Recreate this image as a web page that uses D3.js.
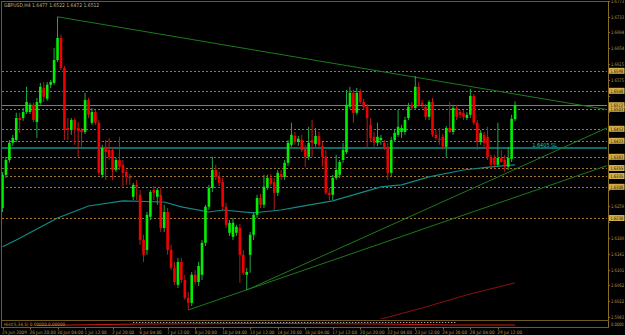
<!DOCTYPE html>
<html>
<head>
<meta charset="utf-8">
<script src="https://cdnjs.cloudflare.com/ajax/libs/d3/7.8.5/d3.min.js"></script>
<style>
  body { margin: 0; background: #000; }
  svg { display: block; font-family: "DejaVu Sans Condensed", "DejaVu Sans", sans-serif; font-stretch: condensed; }
</style>
</head>
<body>
<div class="chart"></div>
<script>
const symbol = "GBPUSD,H4"

// H4 candles, 25 Jun 2009 12:00 onwards
const opens = [
  1.6255,1.6338,1.6375,1.6418,1.6425,1.6480,1.6480,1.6495,1.6495,1.6513,
  1.6470,1.6518,1.6555,1.6528,1.6563,1.6568,1.6625,1.6680,1.6605,1.6455,
  1.6450,1.6475,1.6455,1.6450,1.6445,1.6525,1.6468,1.6495,1.6468,1.6338,
  1.6405,1.6400,1.6400,1.6350,1.6375,1.6363,1.6345,1.6333,1.6283,1.6313,
  1.6288,1.6175,1.6150,1.6233,1.6300,1.6283,1.6288,1.6205,1.6245,1.6150,
  1.6105,1.6063,1.6120,1.6075,1.6030,1.6018,1.6088,1.6070,1.6088,1.6168,
  1.6258,1.6305,1.6350,1.6333,1.6320,1.6258,1.6193,1.6183,1.6193,1.6205,
  1.6138,1.6088,1.6138,1.6188,1.6238,1.6280,1.6263,1.6305,1.6330,1.6320,
  1.6293,1.6340,1.6333,1.6368,1.6413,1.6435,1.6420,1.6425,1.6403,1.6383,
  1.6425,1.6415,1.6435,1.6410,1.6383,1.6293,1.6288,1.6330,1.6338,1.6375,
  1.6395,1.6508,1.6543,1.6493,1.6545,1.6520,1.6508,1.6463,1.6433,1.6418,
  1.6425,1.6418,1.6408,1.6343,1.6425,1.6438,1.6445,1.6445,1.6480,1.6513,
  1.6505,1.6558,1.6518,1.6508,1.6483,1.6520,1.6438,1.6428,1.6433,1.6408,
  1.6455,1.6445,1.6505,1.6495,1.6493,1.6480,1.6488,1.6535,1.6468,1.6420,
  1.6438,1.6433,1.6380,1.6380,1.6363,1.6380,1.6375,1.6358,1.6378,1.6477
]
const highs = [
  1.6345,1.6383,1.6425,1.6438,1.6493,1.6493,1.6505,1.6558,1.6518,1.6518,
  1.6530,1.6568,1.6570,1.6570,1.6575,1.6655,1.6733,1.6688,1.6610,1.6480,
  1.6480,1.6480,1.6470,1.6455,1.6543,1.6530,1.6505,1.6500,1.6475,1.6413,
  1.6425,1.6430,1.6405,1.6380,1.6433,1.6375,1.6350,1.6340,1.6318,1.6325,
  1.6300,1.6188,1.6245,1.6300,1.6310,1.6305,1.6305,1.6263,1.6255,1.6163,
  1.6120,1.6130,1.6130,1.6088,1.6045,1.6095,1.6100,1.6120,1.6175,1.6263,
  1.6313,1.6383,1.6363,1.6345,1.6330,1.6268,1.6225,1.6230,1.6213,1.6215,
  1.6150,1.6105,1.6195,1.6245,1.6288,1.6290,1.6338,1.6338,1.6340,1.6330,
  1.6350,1.6350,1.6375,1.6425,1.6468,1.6445,1.6435,1.6438,1.6413,1.6458,
  1.6475,1.6455,1.6445,1.6420,1.6400,1.6305,1.6338,1.6388,1.6375,1.6418,
  1.6550,1.6558,1.6550,1.6555,1.6553,1.6528,1.6515,1.6480,1.6445,1.6468,
  1.6438,1.6425,1.6418,1.6433,1.6450,1.6500,1.6463,1.6483,1.6518,1.6520,
  1.6585,1.6570,1.6525,1.6515,1.6525,1.6530,1.6450,1.6455,1.6440,1.6460,
  1.6520,1.6513,1.6513,1.6500,1.6500,1.6495,1.6553,1.6540,1.6475,1.6450,
  1.6445,1.6458,1.6388,1.6388,1.6468,1.6400,1.6388,1.6408,1.6488,1.6522
]
const lows = [
  1.6245,1.6330,1.6368,1.6410,1.6420,1.6443,1.6473,1.6490,1.6490,1.6470,
  1.6430,1.6513,1.6520,1.6523,1.6555,1.6563,1.6620,1.6600,1.6425,1.6425,
  1.6438,1.6413,1.6383,1.6408,1.6440,1.6480,1.6463,1.6463,1.6338,1.6330,
  1.6325,1.6375,1.6325,1.6345,1.6350,1.6308,1.6313,1.6313,1.6275,1.6275,
  1.6163,1.6120,1.6138,1.6225,1.6275,1.6263,1.6195,1.6195,1.6138,1.6100,
  1.6063,1.6055,1.6068,1.6025,1.6000,1.6010,1.6063,1.6060,1.6075,1.6160,
  1.6250,1.6295,1.6325,1.6310,1.6250,1.6205,1.6185,1.6175,1.6185,1.6068,
  1.6088,1.6050,1.6093,1.6175,1.6230,1.6255,1.6255,1.6300,1.6310,1.6250,
  1.6285,1.6325,1.6325,1.6360,1.6408,1.6413,1.6410,1.6395,1.6358,1.6375,
  1.6383,1.6408,1.6405,1.6358,1.6288,1.6275,1.6275,1.6325,1.6330,1.6368,
  1.6390,1.6503,1.6468,1.6488,1.6515,1.6500,1.6405,1.6420,1.6408,1.6410,
  1.6413,1.6400,1.6325,1.6333,1.6420,1.6433,1.6430,1.6438,1.6475,1.6500,
  1.6500,1.6508,1.6505,1.6475,1.6475,1.6433,1.6425,1.6413,1.6400,1.6383,
  1.6443,1.6438,1.6475,1.6480,1.6475,1.6475,1.6480,1.6463,1.6400,1.6413,
  1.6405,1.6375,1.6355,1.6355,1.6358,1.6368,1.6345,1.6350,1.6370,1.6472
]
const closes = [
  1.6338,1.6375,1.6418,1.6430,1.6480,1.6475,1.6495,1.6520,1.6513,1.6475,
  1.6520,1.6558,1.6533,1.6563,1.6570,1.6625,1.6680,1.6605,1.6450,1.6450,
  1.6475,1.6450,1.6448,1.6445,1.6525,1.6488,1.6495,1.6468,1.6343,1.6405,
  1.6395,1.6383,1.6350,1.6375,1.6358,1.6343,1.6333,1.6330,1.6313,1.6308,
  1.6175,1.6138,1.6238,1.6295,1.6293,1.6300,1.6205,1.6245,1.6150,1.6105,
  1.6070,1.6120,1.6075,1.6030,1.6018,1.6088,1.6070,1.6110,1.6168,1.6258,
  1.6305,1.6350,1.6333,1.6318,1.6258,1.6213,1.6218,1.6218,1.6208,1.6138,
  1.6093,1.6095,1.6188,1.6238,1.6280,1.6263,1.6308,1.6330,1.6315,1.6293,
  1.6343,1.6333,1.6368,1.6418,1.6438,1.6420,1.6428,1.6400,1.6383,1.6418,
  1.6418,1.6435,1.6413,1.6383,1.6293,1.6288,1.6330,1.6350,1.6370,1.6400,
  1.6513,1.6543,1.6493,1.6543,1.6520,1.6508,1.6480,1.6430,1.6418,1.6433,
  1.6430,1.6408,1.6343,1.6425,1.6443,1.6458,1.6455,1.6475,1.6508,1.6505,
  1.6558,1.6513,1.6513,1.6483,1.6520,1.6438,1.6430,1.6425,1.6408,1.6455,
  1.6445,1.6505,1.6483,1.6488,1.6483,1.6488,1.6535,1.6468,1.6420,1.6443,
  1.6418,1.6383,1.6363,1.6363,1.6380,1.6370,1.6358,1.6380,1.6478,1.6512
]

// one label every 8 bars
const timeLabels = ["25 Jun 2009","26 Jun 20:00","30 Jun 04:00","1 Jul 12:00","2 Jul 20:00",
  "6 Jul 04:00","7 Jul 12:00","8 Jul 20:00","10 Jul 04:00","13 Jul 12:00","14 Jul 20:00",
  "16 Jul 04:00","17 Jul 12:00","20 Jul 20:00","22 Jul 04:00","23 Jul 12:00","24 Jul 20:00",
  "28 Jul 04:00","29 Jul 12:00"]

const priceTicks = [1.6773,1.6733,1.6694,1.6654,1.6615,1.6575,1.6536,1.6496,1.6457,1.6417,
  1.6378,1.6338,1.6299,1.6259,1.6220,1.6180,1.6141,1.6101,1.6062,1.6022,1.5983]

// horizontal levels drawn by hand (dashed)
const levels = [1.6598,1.6548,1.6503,1.6453,1.6423,1.6383,1.6355,1.6335,1.6308,1.6230]
const bid = 1.6512
const stopLevel = 1.6405
const stopText = "1.6405 SL"

// moving averages (bar, price)
const maBars   = [0,4,16,25,35,47,52,60,64,73,81,86,96,104,110,116,124,134,142,149]
const maValues = [1.6158,1.6175,1.6230,1.6260,1.6273,1.6270,1.6258,1.6245,1.6250,1.6243,
  1.6250,1.6258,1.6273,1.6293,1.6308,1.6313,1.6333,1.6350,1.6358,1.6363]
const ma2Bars   = [109,122,135,149]
const ma2Values = [1.5975,1.6005,1.6038,1.6068]

// trend lines: [bar1, price1, bar2, price2]
const trendLines = [[16,1.6733,120,1.6582],[71,1.6050,133,1.6290],[54,1.6000,140,1.6255]]

// little indicator window under the chart
const subBars = [10,40,80,110,130,149]
const subRed  = [0.2,0.5,0.6,0.5,0.3,0.3]
const subText = "Hist(5,34,5) 0.00000  0.00000"

let w = 625
let h = 335
let plotR = 607
let plotB = 319

let svg = d3.select(".chart").append("svg")
  .attr("width", w).attr("height", h)
  .style("background-color", "#000")

const xScale = d3.scaleLinear()
  .domain([0, 149])
  .range([2.5, 2.5 + 3.44 * 149])
const yScale = d3.scaleLinear()
  .domain([1.59775, 1.6775])
  .range([319, 0])

svg.append("clipPath").attr("id", "clip")
  .append("rect").attr("x", 2).attr("y", 2).attr("width", plotR - 2).attr("height", plotB - 2)

let plot = svg.append("g").attr("clip-path", "url(#clip)")

// frame
let frameCol = "#6e5a22"
svg.append("line").attr("x1", 1.5).attr("x2", 1.5).attr("y1", 1).attr("y2", 328).attr("stroke", frameCol)
svg.append("line").attr("x1", 1).attr("x2", 608).attr("y1", 1.5).attr("y2", 1.5).attr("stroke", frameCol)
svg.append("line").attr("x1", 608.5).attr("x2", 608.5).attr("y1", 1).attr("y2", 328).attr("stroke", "#8a6d24")
svg.append("line").attr("x1", 1).attr("x2", 609).attr("y1", 320.5).attr("y2", 320.5).attr("stroke", frameCol)
svg.append("line").attr("x1", 1).attr("x2", 609).attr("y1", 327.5).attr("y2", 327.5).attr("stroke", frameCol)

// dashed levels
plot.selectAll(".lvl").data(levels).enter().append("line")
  .attr("class", "lvl")
  .attr("x1", 2).attr("x2", plotR)
  .attr("y1", d => Math.round(yScale(d)) + 0.5).attr("y2", d => Math.round(yScale(d)) + 0.5)
  .attr("stroke", "#a8742a").attr("stroke-dasharray", "2,2")

// bid line
plot.append("line")
  .attr("x1", 2).attr("x2", plotR)
  .attr("y1", Math.round(yScale(bid)) + 0.5).attr("y2", Math.round(yScale(bid)) + 0.5)
  .attr("stroke", "#7a7a7a")

// stop level
plot.append("line")
  .attr("x1", 2).attr("x2", plotR)
  .attr("y1", yScale(stopLevel)).attr("y2", yScale(stopLevel))
  .attr("stroke", "#0b6b68").attr("stroke-width", 2)
svg.append("text").text(stopText)
  .attr("x", 557).attr("y", yScale(stopLevel) - 1.5)
  .attr("text-anchor", "end").attr("font-size", 5.5).attr("fill", "#18c8c8")

// moving averages
let maLine = d3.line().x(d => xScale(d[0])).y(d => yScale(d[1]))
plot.append("path")
  .attr("d", maLine(maBars.map((b, i) => [b, maValues[i]])))
  .attr("fill", "none").attr("stroke", "#138a86").attr("stroke-width", 1.2)
plot.append("path")
  .attr("d", maLine(ma2Bars.map((b, i) => [b, ma2Values[i]])))
  .attr("fill", "none").attr("stroke", "#8c1010").attr("stroke-width", 1)

// trend lines, extended to the right edge
let lastBar = xScale.invert(plotR)
plot.selectAll(".trend").data(trendLines).enter().append("line")
  .attr("class", "trend")
  .attr("x1", d => xScale(d[0])).attr("y1", d => yScale(d[1]))
  .attr("x2", xScale(lastBar))
  .attr("y2", d => yScale(d[1] + (d[3] - d[1]) / (d[2] - d[0]) * (lastBar - d[0])))
  .attr("stroke", "#1d7a1d").attr("stroke-width", 1)

// candles
let bars = d3.range(opens.length)
let up = i => closes[i] >= opens[i]
plot.selectAll(".wick").data(bars).enter().append("line")
  .attr("class", "wick")
  .attr("x1", i => xScale(i)).attr("x2", i => xScale(i))
  .attr("y1", i => yScale(highs[i])).attr("y2", i => yScale(lows[i]))
  .attr("stroke", i => up(i) ? "#22a84a" : "#b41c1c").attr("stroke-width", 1)
plot.selectAll(".body").data(bars).enter().append("rect")
  .attr("class", "body")
  .attr("x", i => xScale(i) - 1.3).attr("width", 2.6)
  .attr("y", i => yScale(Math.max(opens[i], closes[i])))
  .attr("height", i => Math.max(1, Math.abs(yScale(opens[i]) - yScale(closes[i]))))
  .attr("fill", i => up(i) ? "#00f000" : "#f00000")

// price axis (labels hidden under a level tag are skipped, as the terminal does)
let tags = levels.concat([bid])
let freeTicks = priceTicks.filter(p => tags.every(t => Math.abs(yScale(t) - yScale(p)) > 6))
svg.selectAll(".ptick").data(freeTicks).enter().append("text")
  .attr("class", "ptick")
  .attr("x", 611).attr("y", d => yScale(d) + 2)
  .attr("font-size", 4.8).attr("fill", "#b49650")
  .attr("textLength", 13).attr("lengthAdjust", "spacingAndGlyphs")
  .text(d => d.toFixed(4))
svg.selectAll(".ptickmark").data(priceTicks).enter().append("line")
  .attr("class", "ptickmark")
  .attr("x1", 608).attr("x2", 610)
  .attr("y1", d => Math.round(yScale(d)) + 0.5).attr("y2", d => Math.round(yScale(d)) + 0.5)
  .attr("stroke", "#8a6d24")

// level tags on the axis
svg.selectAll(".tag").data(tags).enter().append("rect")
  .attr("class", "tag")
  .attr("x", 609).attr("width", 15.5)
  .attr("y", d => yScale(d) - 3).attr("height", 6)
  .attr("fill", "#d2ad48")
svg.selectAll(".tagtxt").data(tags).enter().append("text")
  .attr("class", "tagtxt")
  .attr("x", 610.2).attr("y", d => yScale(d) + 1.8)
  .attr("font-size", 4.6).attr("fill", "#2a2000")
  .attr("textLength", 13).attr("lengthAdjust", "spacingAndGlyphs")
  .text(d => d.toFixed(4))

// header
let last = opens.length - 1
svg.append("text")
  .attr("x", 4).attr("y", 7)
  .attr("font-size", 5).attr("fill", "#c8b078")
  .text(symbol + "  " + [opens[last], highs[last], lows[last], closes[last]].map(v => v.toFixed(4)).join(" "))

// indicator window
let subScale = d3.scaleLinear().domain([0, 1]).range([326.5, 321.5])
svg.append("path")
  .attr("d", d3.line().x(d => xScale(d[0])).y(d => subScale(d[1]))(subBars.map((b, i) => [b, subRed[i]])))
  .attr("fill", "none").attr("stroke", "#d01818").attr("stroke-width", 1)
svg.append("line")
  .attr("x1", xScale(38)).attr("x2", xScale(132))
  .attr("y1", 322.5).attr("y2", 322.5)
  .attr("stroke", "#d8d8d8").attr("stroke-dasharray", "1,2")
svg.append("text").text(subText)
  .attr("x", 4).attr("y", 326)
  .attr("font-size", 4.6).attr("fill", "#d08a2a")
svg.append("text").text("0.0000")
  .attr("x", 611).attr("y", 326).attr("font-size", 4.6).attr("fill", "#b49650")
  .attr("textLength", 12.5).attr("lengthAdjust", "spacingAndGlyphs")

// time axis
svg.selectAll(".tlabel").data(timeLabels).enter().append("text")
  .attr("class", "tlabel")
  .attr("x", (d, i) => xScale(i * 8) - 0.5).attr("y", 333.5)
  .attr("font-size", 4.6).attr("fill", "#b49650")
  .text(d => d)
svg.selectAll(".tmark").data(timeLabels).enter().append("line")
  .attr("class", "tmark")
  .attr("x1", (d, i) => Math.round(xScale(i * 8)) + 0.5).attr("x2", (d, i) => Math.round(xScale(i * 8)) + 0.5)
  .attr("y1", 327.5).attr("y2", 329.5)
  .attr("stroke", "#8a6d24")
</script>
</body>
</html>
